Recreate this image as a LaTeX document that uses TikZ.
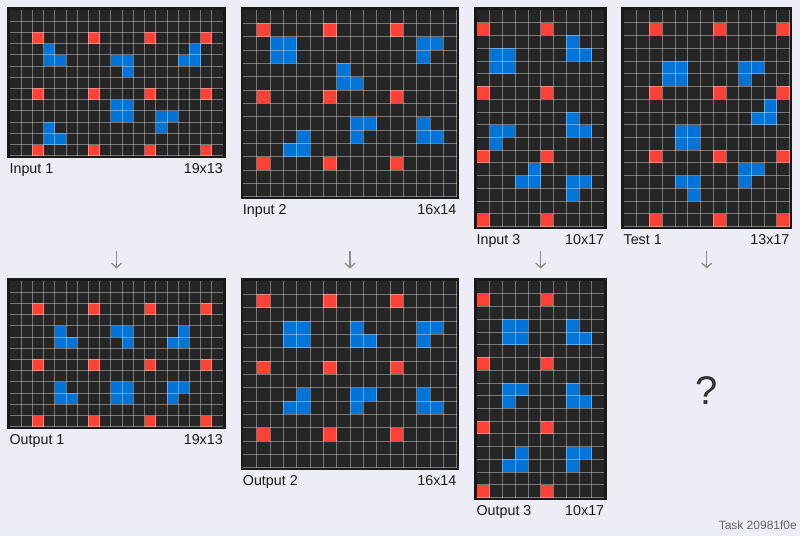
\documentclass[tikz,border=0pt]{standalone}
\usepackage{fontspec}
\setmainfont{Liberation Sans}
\usepackage{tikz}
\usetikzlibrary{arrows.meta}

\definecolor{pagebg}{RGB}{237,238,245}
\definecolor{celldark}{RGB}{38,38,38}
\definecolor{arcred}{RGB}{255,65,54}
\definecolor{arcblue}{RGB}{0,116,217}

% one grid with its frame and its two labels
% #1 name, #2/#3 top left of the grid, #4 cols, #5 rows, #6 cell size,
% #7 red cells, #8 blue cells, #9 caption
\newcommand{\arcpanel}[9]{%
  \pgfmathsetmacro\pw{#4*#6}%
  \pgfmathsetmacro\ph{#5*#6}%
  \begin{scope}[shift={(#2,#3)}, x=#6pt, y=-#6pt]
    \fill[celldark] (0,0) rectangle (#4,#5);
    \foreach \cc/\rr in {#7} \fill[arcred] (\cc,\rr) rectangle ++(1,1);
    \foreach \cc/\rr in {#8} \fill[arcblue] (\cc,\rr) rectangle ++(1,1);
    \foreach \cc in {1,...,#4} \draw[grid line] (\cc,0) -- (\cc,#5);
    \foreach \rr in {1,...,#5} \draw[grid line] (0,\rr) -- (#4,\rr);
  \end{scope}
  \node[panel frame, minimum width=\pw pt+2.7pt, minimum height=\ph pt+2.7pt]
    (#1) at ({#2+\pw/2},{#3+\ph/2}) {};
  \node[caption, anchor=base west] (#1-name) at ({#2-0.6},{#3+\ph+17.5}) {#9};
  \node[caption, anchor=base east] (#1-size) at ({#2+\pw},{#3+\ph+17.5}) {#4x#5};
}

\begin{document}
\begin{tikzpicture}[
    x=1pt, y=-1pt,
    grid line/.style={draw=white, draw opacity=0.38, line width=0.8pt},
    panel frame/.style={draw=black!90, line width=2.7pt, inner sep=0pt, fill=none},
    caption/.style={inner sep=0pt, font=\fontsize{14.3}{16}\selectfont, text=black!90},
    flow/.style={draw=black!45, line width=1.3pt, -{Straight Barb[length=4.5pt,width=10pt]}},
    ]
    \useasboundingbox[fill=pagebg] (0,0) rectangle (800,536);

    % inputs and test
    \arcpanel{in1}{10}{10}{19}{13}{11.21}
      {2/2,7/2,12/2,17/2,2/7,7/7,12/7,17/7,2/12,7/12,12/12,17/12}
      {3/3,3/4,4/4,16/3,15/4,16/4,9/4,10/4,10/5,9/8,10/8,9/9,10/9,13/9,14/9,13/10,3/10,3/11,4/11}
      {Input 1}
    \arcpanel{in2}{243.3}{10}{16}{14}{13.33}
      {1/1,6/1,11/1,1/6,6/6,11/6,1/11,6/11,11/11}
      {2/2,3/2,2/3,3/3,13/2,14/2,13/3,7/4,7/5,8/5,8/8,9/8,8/9,13/8,13/9,14/9,4/9,3/10,4/10}
      {Input 2}
    \arcpanel{in3}{477}{10}{10}{17}{12.74}
      {0/1,5/1,0/6,5/6,0/11,5/11,0/16,5/16}
      {7/2,7/3,8/3,1/3,2/3,1/4,2/4,7/8,7/9,8/9,1/9,2/9,1/10,4/12,3/13,4/13,7/13,8/13,7/14}
      {Input 3}
    \arcpanel{test1}{624}{10}{13}{17}{12.74}
      {2/1,7/1,12/1,2/6,7/6,12/6,2/11,7/11,12/11,2/16,7/16,12/16}
      {3/4,4/4,3/5,4/5,9/4,10/4,9/5,11/7,10/8,11/8,4/9,5/9,4/10,5/10,9/12,10/12,9/13,4/13,5/13,5/14}
      {Test 1}

    % outputs
    \arcpanel{out1}{10}{281}{19}{13}{11.21}
      {2/2,7/2,12/2,17/2,2/7,7/7,12/7,17/7,2/12,7/12,12/12,17/12}
      {4/4,4/5,5/5,9/4,10/4,10/5,15/4,14/5,15/5,4/9,4/10,5/10,9/9,10/9,9/10,10/10,14/9,15/9,14/10}
      {Output 1}
    \arcpanel{out2}{243.3}{281}{16}{14}{13.33}
      {1/1,6/1,11/1,1/6,6/6,11/6,1/11,6/11,11/11}
      {3/3,4/3,3/4,4/4,8/3,8/4,9/4,13/3,14/3,13/4,4/8,3/9,4/9,8/8,9/8,8/9,13/8,13/9,14/9}
      {Output 2}
    \arcpanel{out3}{477}{281}{10}{17}{12.74}
      {0/1,5/1,0/6,5/6,0/11,5/11,0/16,5/16}
      {2/3,3/3,2/4,3/4,7/3,7/4,8/4,2/8,3/8,2/9,7/8,7/9,8/9,3/13,2/14,3/14,7/13,8/13,7/14}
      {Output 3}

    % arrows between the rows
    \foreach \name/\xc in {a1/116.5, a2/350, a3/540.7, a4/706.8} {
      \coordinate (\name-top) at (\xc,251);
      \coordinate (\name-bot) at (\xc,268.5);
      \draw[flow] (\name-top) -- (\name-bot);
    }

    \node[text=black!80, font=\fontsize{40}{44}\selectfont, inner sep=0pt] (unknown) at (706.8,391) {?};
    \node[text=black!60, font=\fontsize{12}{14}\selectfont, inner sep=0pt, anchor=base east] (taskid) at (797,529) {Task 20981f0e};

\end{tikzpicture}
\end{document}
